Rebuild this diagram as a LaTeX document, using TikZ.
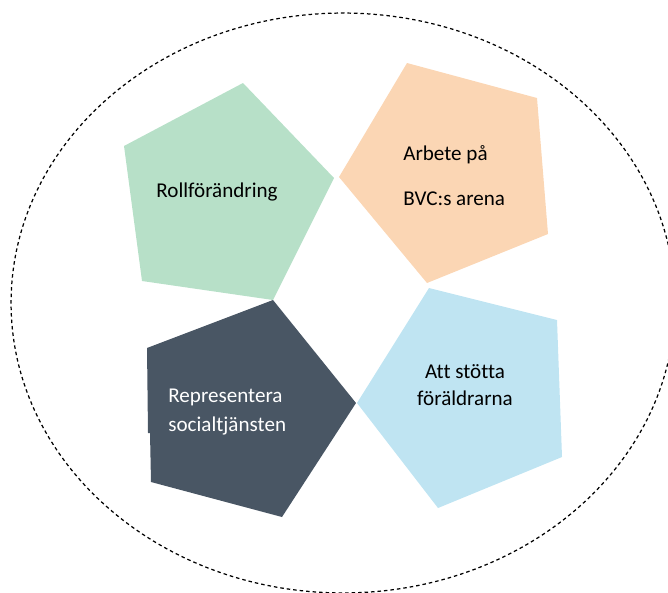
\documentclass[tikz,border=0pt]{standalone}
\usepackage{fontspec}
\setmainfont[Ligatures=NoCommon]{Carlito}
\definecolor{rollgreen}{RGB}{183,224,200}
\definecolor{bvcorange}{RGB}{251,214,180}
\definecolor{socdark}{RGB}{73,86,100}
\definecolor{parblue}{RGB}{191,228,242}

\begin{document}
\begin{tikzpicture}[x=0.02cm, y=-0.02cm,
		lbl/.style={font=\fontsize{12}{15.5}\selectfont, text=black, inner sep=0pt}]
			%%%%% START %%%%%
			
			\useasboundingbox (0,0) rectangle (668,592);
			
			\draw[line width=0.7pt, dash pattern=on 2pt off 1.7pt] (343,303) ellipse [x radius=6.64cm, y radius=5.8cm];
			
			\fill[rollgreen] (243,83) -- (334,178) -- (273,300) -- (142,281) -- (124,146) -- cycle;
			\fill[bvcorange] (407,63) -- (537,98) -- (548,234) -- (427,283) -- (339,177) -- cycle;
			\fill[socdark] (273,300) -- (356,403) -- (282,517) -- (151,482) -- (150,433) -- (148,433) -- (147,348) -- cycle;
			\fill[parblue] (429,288) -- (557,320) -- (562,457) -- (438,508) -- (357,403) -- cycle;
			
			\node[lbl] (roll) at (217,192) {Rollförändring};
			\node[lbl, align=left, anchor=west] (bvc) at (403,176) {Arbete på\\[10pt]BVC:s arena};
			\node[lbl, align=center] (stod) at (465,385) {Att stötta\\föräldrarna};
			\node[lbl, align=left, anchor=west, text=white] (soc) at (168,412) {Representera\\[1pt]socialtjänsten};
			
			%%%%% END %%%%%
\end{tikzpicture}
\end{document}
